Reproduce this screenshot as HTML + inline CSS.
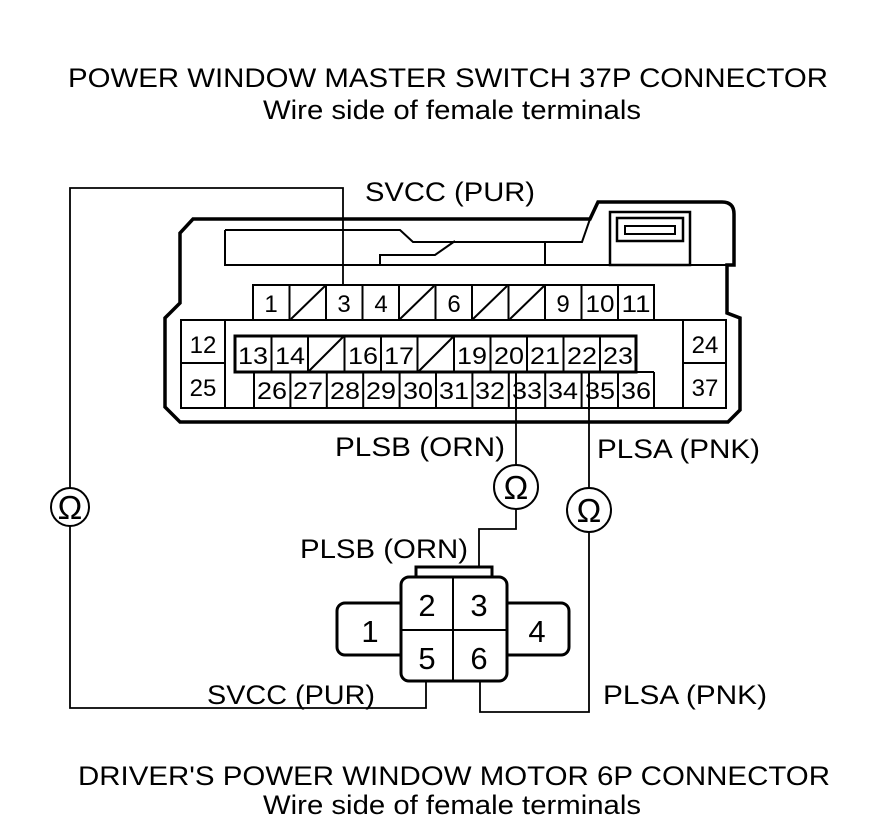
<!DOCTYPE html>
<html><head><meta charset="utf-8"><style>
html,body{margin:0;padding:0;background:#fff}
svg{display:block}
text{font-family:"Liberation Sans",Arial,sans-serif;fill:#000}
</style></head><body>
<svg width="880" height="838" viewBox="0 0 880 838" xmlns="http://www.w3.org/2000/svg">
<g font-size="27">
<text x="68" y="87" textLength="760" lengthAdjust="spacingAndGlyphs">POWER WINDOW MASTER SWITCH 37P CONNECTOR</text>
<text x="263" y="119" textLength="378" lengthAdjust="spacingAndGlyphs">Wire side of female terminals</text>
<text x="78" y="785" textLength="752" lengthAdjust="spacingAndGlyphs">DRIVER'S POWER WINDOW MOTOR 6P CONNECTOR</text>
<text x="263" y="814" textLength="378" lengthAdjust="spacingAndGlyphs">Wire side of female terminals</text>
<text x="365" y="201" textLength="170" lengthAdjust="spacingAndGlyphs">SVCC (PUR)</text>
<text x="335" y="456" textLength="170" lengthAdjust="spacingAndGlyphs">PLSB (ORN)</text>
<text x="597" y="458" textLength="163" lengthAdjust="spacingAndGlyphs">PLSA (PNK)</text>
<text x="300" y="558" textLength="168" lengthAdjust="spacingAndGlyphs">PLSB (ORN)</text>
<text x="207" y="704" textLength="168" lengthAdjust="spacingAndGlyphs">SVCC (PUR)</text>
<text x="603" y="704" textLength="164" lengthAdjust="spacingAndGlyphs">PLSA (PNK)</text>
</g>
<g fill="none" stroke="#000">
<path stroke-width="3.5" d="M193 219 L590 219 L598 202 L722 202 Q734 202 734 214 L734 265 L727 265 L727 313 L740 318 L740 410 L728 422 L180 422 L165 407 L165 318 L180 303 L180 233 Z"/>
<path stroke-width="2" d="M225 230 L400 230 L413 242 L582 242 L590 219 M225 230 L225 265 L610 265 M380 265 L380 255 L435 255 L455 241 M545 242 L545 265"/>
<rect x="610" y="212" width="80" height="53" stroke-width="2.5"/>
<rect x="617" y="218" width="66" height="23" stroke-width="2.5"/>
<rect x="625" y="226" width="50" height="8" stroke-width="2"/>
<line x1="690" y1="265" x2="727" y2="265" stroke-width="2"/>
<path stroke-width="1.8" d="M343 285 L343 188 L70 188 L70 488 M70 526 L70 708 L426 708 L426 681"/>
<path stroke-width="1.8" d="M516 372 L516 465 M516 509 L516 529 L479 529 L479 567"/>
<path stroke-width="1.8" d="M589 372 L589 488 M589 532 L589 712 L480 712 L480 681"/>
<circle cx="70" cy="507" r="19" stroke-width="2"/>
<circle cx="516" cy="487" r="22" stroke-width="2"/>
<circle cx="589" cy="510" r="22" stroke-width="2"/>
</g>
<g font-size="33" text-anchor="middle">
<text x="70" y="519">Ω</text><text x="516" y="499">Ω</text><text x="589" y="522">Ω</text>
</g>
<g fill="none" stroke="#000" stroke-width="2">
<rect x="253" y="285" width="401" height="35"/>
<path d="M289.5 285V320M326 285V320M362.5 285V320M399 285V320M435.5 285V320M472 285V320M508.5 285V320M545 285V320M581.5 285V320M618 285V320"/>
<path d="M291 319L325 286M400 319L434 286M473 319L507 286M510 319L544 286"/>
<rect x="181" y="320" width="545" height="88"/>
<path d="M225 320V408M683 320V408M181 363H225M683 363H726"/>
<path d="M254 372V408M290.4 372V408M326.8 372V408M363.2 372V408M399.6 372V408M436 372V408M472.4 372V408M508.8 372V408M545.2 372V408M581.6 372V408M618 372V408M654 372V408M636 372H654"/>
</g>
<g fill="none" stroke="#000">
<rect x="235" y="336" width="401" height="36" stroke-width="3" fill="#fff"/>
<path stroke-width="2" d="M271.5 336V372M308 336V372M344.5 336V372M381 336V372M417.5 336V372M454 336V372M490.5 336V372M527 336V372M563.5 336V372M600 336V372"/>
<path stroke-width="2" d="M309 371L343 337M419 371L453 337"/>
</g>
<g font-size="24" text-anchor="middle">
<text x="271" y="312">1</text><text x="344" y="312">3</text><text x="381" y="312">4</text><text x="454" y="312">6</text><text x="563" y="312">9</text><text x="600" y="312" textLength="29" lengthAdjust="spacingAndGlyphs">10</text><text x="636" y="312" textLength="29" lengthAdjust="spacingAndGlyphs">11</text>
<g textLength="30">
<text x="253" y="364" textLength="30" lengthAdjust="spacingAndGlyphs">13</text><text x="290" y="364" textLength="30" lengthAdjust="spacingAndGlyphs">14</text><text x="363" y="364" textLength="30" lengthAdjust="spacingAndGlyphs">16</text><text x="399" y="364" textLength="30" lengthAdjust="spacingAndGlyphs">17</text><text x="472" y="364" textLength="30" lengthAdjust="spacingAndGlyphs">19</text><text x="509" y="364" textLength="30" lengthAdjust="spacingAndGlyphs">20</text><text x="545" y="364" textLength="30" lengthAdjust="spacingAndGlyphs">21</text><text x="582" y="364" textLength="30" lengthAdjust="spacingAndGlyphs">22</text><text x="618" y="364" textLength="30" lengthAdjust="spacingAndGlyphs">23</text>
<text x="272" y="399" textLength="30" lengthAdjust="spacingAndGlyphs">26</text><text x="308" y="399" textLength="30" lengthAdjust="spacingAndGlyphs">27</text><text x="345" y="399" textLength="30" lengthAdjust="spacingAndGlyphs">28</text><text x="381" y="399" textLength="30" lengthAdjust="spacingAndGlyphs">29</text><text x="418" y="399" textLength="30" lengthAdjust="spacingAndGlyphs">30</text><text x="454" y="399" textLength="30" lengthAdjust="spacingAndGlyphs">31</text><text x="490" y="399" textLength="30" lengthAdjust="spacingAndGlyphs">32</text><text x="527" y="399" textLength="30" lengthAdjust="spacingAndGlyphs">33</text><text x="563" y="399" textLength="30" lengthAdjust="spacingAndGlyphs">34</text><text x="600" y="399" textLength="30" lengthAdjust="spacingAndGlyphs">35</text><text x="636" y="399" textLength="30" lengthAdjust="spacingAndGlyphs">36</text>
</g>
<text x="203" y="353">12</text><text x="203" y="396">25</text><text x="705" y="353">24</text><text x="705" y="396">37</text>
</g>
<g stroke="#000" stroke-width="1.8"><line x1="516" y1="372" x2="516" y2="410"/><line x1="589" y1="372" x2="589" y2="410"/></g>
<g fill="none" stroke="#000" stroke-width="3">
<rect x="337" y="603" width="70" height="52" rx="8"/>
<rect x="501" y="603" width="68" height="52" rx="8"/>
<rect x="416" y="567" width="76" height="14"/>
<rect x="401" y="577" width="106" height="104" rx="8" fill="#fff"/>
<path stroke-width="2" d="M453 577V681M401 630H507"/>
</g>
<g font-size="31" text-anchor="middle">
<text x="370" y="642">1</text><text x="427" y="616">2</text><text x="479" y="616">3</text><text x="537" y="642">4</text><text x="427" y="669">5</text><text x="479" y="669">6</text>
</g>
</svg>
</body></html>
